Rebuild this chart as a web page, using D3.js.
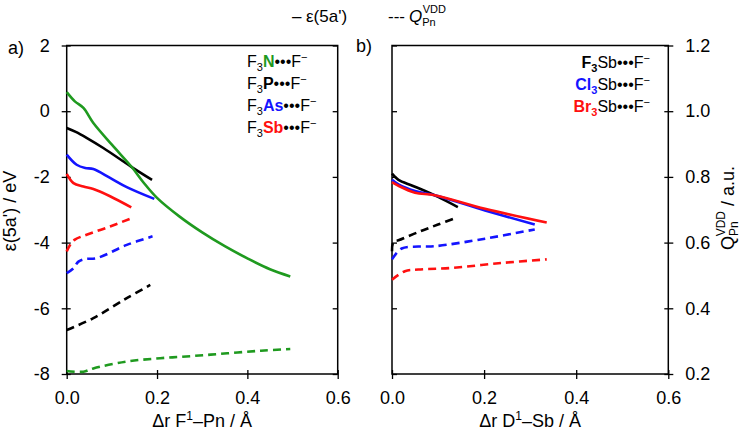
<!DOCTYPE html>
<html><head><meta charset="utf-8">
<script src="https://cdn.jsdelivr.net/npm/d3@7"></script>
<style>
html,body{margin:0;padding:0;background:#fff;}
svg{display:block;font-family:"Liberation Sans",Arial,sans-serif;}
</style></head>
<body><svg id="c" width="742" height="432"></svg>
<script>
// ---- data ----
const xTicks = [0.0, 0.2, 0.4, 0.6];
const epsTicks = [2, 0, -2, -4, -6, -8];
const qTicks = [1.2, 1.0, 0.8, 0.6, 0.4, 0.2];

// panel a: epsilon(5a') / eV
const N_x = [0, 0.018, 0.037, 0.059, 0.10, 0.144, 0.17, 0.2, 0.25, 0.3, 0.35, 0.4, 0.45, 0.495];
const N_eps = [0.58, 0.30, 0.10, -0.36, -1.02, -1.70, -2.17, -2.64, -3.21, -3.69, -4.11, -4.48, -4.81, -5.03];
const P_x = [0, 0.02, 0.044, 0.081, 0.144, 0.189];
const P_eps = [-0.51, -0.63, -0.81, -1.12, -1.70, -2.09];
const As_x = [0, 0.022, 0.041, 0.059, 0.096, 0.133, 0.194];
const As_eps = [-1.32, -1.63, -1.73, -1.76, -2.03, -2.31, -2.67];
const Sb_x = [0, 0.015, 0.037, 0.059, 0.096, 0.143];
const Sb_eps = [-1.91, -2.19, -2.29, -2.37, -2.59, -2.93];
// panel a: Q VDD
const NQ_x = [0, 0.037, 0.059, 0.133, 0.207, 0.281, 0.356, 0.43, 0.495];
const NQ = [0.209, 0.207, 0.217, 0.238, 0.248, 0.255, 0.263, 0.271, 0.276];
const PQ_x = [0, 0.059, 0.133, 0.185];
const PQ = [0.334, 0.370, 0.431, 0.471];
const AsQ_x = [0, 0.015, 0.026, 0.041, 0.067, 0.133, 0.19];
const AsQ = [0.507, 0.522, 0.542, 0.550, 0.553, 0.593, 0.619];
const SbQ_x = [0, 0.0074, 0.018, 0.044, 0.096, 0.143];
const SbQ = [0.573, 0.593, 0.609, 0.624, 0.649, 0.674];

// panel b: epsilon
const F3_x = [0, 0.014, 0.043, 0.072, 0.10, 0.143];
const F3_eps = [-1.90, -2.09, -2.26, -2.43, -2.61, -2.92];
const Cl3_x = [0, 0.014, 0.05, 0.093, 0.202, 0.31];
const Cl3_eps = [-2.09, -2.23, -2.43, -2.56, -3.02, -3.45];
const Br3_x = [0, 0.014, 0.05, 0.093, 0.202, 0.336];
const Br3_eps = [-2.16, -2.27, -2.48, -2.56, -2.97, -3.39];
// panel b: Q
const F3Q_x = [0, 0.003, 0.014, 0.057, 0.10, 0.14];
const F3Q = [0.574, 0.602, 0.607, 0.632, 0.655, 0.676];
const Cl3Q_x = [0, 0.021, 0.057, 0.093, 0.202, 0.31];
const Cl3Q = [0.549, 0.582, 0.588, 0.589, 0.612, 0.640];
const Br3Q_x = [0, 0.028, 0.057, 0.13, 0.238, 0.336];
const Br3Q = [0.487, 0.513, 0.518, 0.523, 0.538, 0.549];

const GREEN = "#1f9a1f", BLUE = "#1414ff", RED = "#ff1010", BLACK = "#000";

// ---- drawing ----
const svg = d3.select("#c");
const FONT = 18;
const yTop = 45.5, yBot = 374;

const xa = d3.scaleLinear([0, 0.6], [66.7, 337.7]);
const xb = d3.scaleLinear([0, 0.6], [392, 668.3]);
const yE = d3.scaleLinear([-8, 2], [yBot, yTop]);
const yQ = d3.scaleLinear([0.2, 1.2], [yBot, yTop]);

function frame(x) {
  const [x0, x1] = x.range();
  svg.append("rect").attr("x", x0).attr("y", yTop).attr("width", x1 - x0).attr("height", yBot - yTop)
    .attr("fill", "none").attr("stroke", "#000").attr("stroke-width", 1.5);
}
frame(xa); frame(xb);

function styleAxis(g) {
  g.select(".domain").remove();
  g.selectAll(".tick line").attr("stroke-width", 1.3);
  g.selectAll("text").attr("font-size", FONT).attr("font-family", '"Liberation Sans",Arial,sans-serif').attr("fill", "#000");
}

// panel a axes
const gaL = svg.append("g").attr("transform", `translate(${xa(0)},0)`)
  .call(d3.axisLeft(yE).tickValues(epsTicks).tickSize(5).tickPadding(12).tickFormat(d => String(d)));
styleAxis(gaL); gaL.selectAll(".tick line").attr("x1", 4);
const gaR = svg.append("g").attr("transform", `translate(${xa(0.6)},0)`)
  .call(d3.axisLeft(yQ).tickValues(qTicks).tickSize(5).tickFormat(""));
styleAxis(gaR);
const gaB = svg.append("g").attr("transform", `translate(0,${yBot})`)
  .call(d3.axisBottom(xa).tickValues(xTicks).tickSize(5).tickPadding(12).tickFormat(d3.format(".1f")));
styleAxis(gaB); gaB.selectAll(".tick line").attr("y1", -4);

// panel b axes
const gbL = svg.append("g").attr("transform", `translate(${xb(0)},0)`)
  .call(d3.axisRight(yE).tickValues(epsTicks).tickSize(5).tickFormat(""));
styleAxis(gbL);
const gbR = svg.append("g").attr("transform", `translate(${xb(0.6)},0)`)
  .call(d3.axisRight(yQ).tickValues(qTicks).tickSize(5).tickPadding(12).tickFormat(d3.format(".1f")));
styleAxis(gbR); gbR.selectAll(".tick line").attr("x1", -4);
const gbB = svg.append("g").attr("transform", `translate(0,${yBot})`)
  .call(d3.axisBottom(xb).tickValues(xTicks).tickSize(5).tickPadding(12).tickFormat(d3.format(".1f")));
styleAxis(gbB); gbB.selectAll(".tick line").attr("y1", -4);

// series
function series(x, y, xs, ys, color, dashed) {
  const pts = xs.map((v, i) => [v, ys[i]]);
  const line = d3.line().x(d => x(d[0])).y(d => y(d[1])).curve(d3.curveCatmullRom.alpha(0.5));
  svg.append("path").attr("d", line(pts)).attr("fill", "none").attr("stroke", color)
    .attr("stroke-width", 2.6).attr("stroke-dasharray", dashed ? "8,5" : null);
}
// panel a
series(xa, yQ, NQ_x, NQ, GREEN, true);
series(xa, yQ, PQ_x, PQ, BLACK, true);
series(xa, yQ, AsQ_x, AsQ, BLUE, true);
series(xa, yQ, SbQ_x, SbQ, RED, true);
series(xa, yE, P_x, P_eps, BLACK, false);
series(xa, yE, As_x, As_eps, BLUE, false);
series(xa, yE, Sb_x, Sb_eps, RED, false);
series(xa, yE, N_x, N_eps, GREEN, false);
// panel b
series(xb, yQ, F3Q_x, F3Q, BLACK, true);
series(xb, yQ, Cl3Q_x, Cl3Q, BLUE, true);
series(xb, yQ, Br3Q_x, Br3Q, RED, true);
series(xb, yE, F3_x, F3_eps, BLACK, false);
series(xb, yE, Cl3_x, Cl3_eps, BLUE, false);
series(xb, yE, Br3_x, Br3_eps, RED, false);

// axis titles
const tA = svg.append("text").attr("x", (xa(0) + xa(0.6)) / 2).attr("y", 427).attr("text-anchor", "middle").attr("font-size", FONT);
tA.append("tspan").text("\u0394r F");
tA.append("tspan").attr("font-size", 12).attr("dy", -7).text("1");
tA.append("tspan").attr("dy", 7).text("\u2013Pn / \u00C5");
const tB = svg.append("text").attr("x", (xb(0) + xb(0.6)) / 2).attr("y", 427).attr("text-anchor", "middle").attr("font-size", FONT);
tB.append("tspan").text("\u0394r D");
tB.append("tspan").attr("font-size", 12).attr("dy", -7).text("1");
tB.append("tspan").attr("dy", 7).text("\u2013Sb / \u00C5");

svg.append("text").attr("transform", "translate(16,211) rotate(-90)").attr("text-anchor", "middle")
  .attr("font-size", FONT).text("\u03B5(5a') / eV");
const tQ = svg.append("text").attr("transform", "translate(734,208) rotate(-90)").attr("text-anchor", "middle").attr("font-size", FONT);
tQ.append("tspan").text("Q");
tQ.append("tspan").attr("font-size", 12).attr("dy", 4).text("Pn");
tQ.append("tspan").attr("font-size", 12).attr("dx", -15).attr("dy", -13).text("VDD");
tQ.append("tspan").attr("dy", 9).text(" / a.u.");

// panel labels
svg.append("text").attr("x", 8).attr("y", 54).attr("font-size", FONT).text("a)");
svg.append("text").attr("x", 356).attr("y", 52).attr("font-size", FONT).text("b)");

// top legend
svg.append("text").attr("x", 292).attr("y", 22).attr("font-size", 17).text("\u2013");
svg.append("text").attr("x", 306).attr("y", 22).attr("font-size", 17).text("\u03B5(5a')");
svg.append("text").attr("x", 388).attr("y", 22).attr("font-size", 17).text("---");
const lg2 = svg.append("text").attr("x", 409).attr("y", 22).attr("font-size", 17);
lg2.append("tspan").attr("font-style", "italic").text("Q");
lg2.append("tspan").attr("font-size", 11).attr("dy", 4).text("Pn");
lg2.append("tspan").attr("font-size", 11).attr("dx", -13).attr("dy", -13).text("VDD");

// panel a legend
const legA = [["N", GREEN], ["P", BLACK], ["As", BLUE], ["Sb", RED]];
const legAy = [67, 89, 111, 133];
legA.forEach((d, i) => {
  const t = svg.append("text").attr("x", 247).attr("y", legAy[i]).attr("font-size", 16);
  t.append("tspan").text("F");
  t.append("tspan").attr("font-size", 11).attr("dy", 4).text("3");
  t.append("tspan").attr("dy", -4).attr("font-weight", "bold").attr("fill", d[1]).text(d[0]);
  t.append("tspan").text("\u2022\u2022\u2022F");
  t.append("tspan").attr("font-size", 11).attr("dy", -6).text("\u2212");
});
// panel b legend
const legB = [["F", BLACK], ["Cl", BLUE], ["Br", RED]];
const legBy = [68, 90, 112];
legB.forEach((d, i) => {
  const t = svg.append("text").attr("x", 650).attr("y", legBy[i]).attr("font-size", 16).attr("text-anchor", "end");
  t.append("tspan").attr("font-weight", "bold").attr("fill", d[1]).text(d[0]);
  t.append("tspan").attr("font-size", 11).attr("dy", 4).attr("font-weight", "bold").attr("fill", d[1]).text("3");
  t.append("tspan").attr("dy", -4).text("Sb\u2022\u2022\u2022F");
  t.append("tspan").attr("font-size", 11).attr("dy", -6).text("\u2212");
});
</script>
</body></html>
